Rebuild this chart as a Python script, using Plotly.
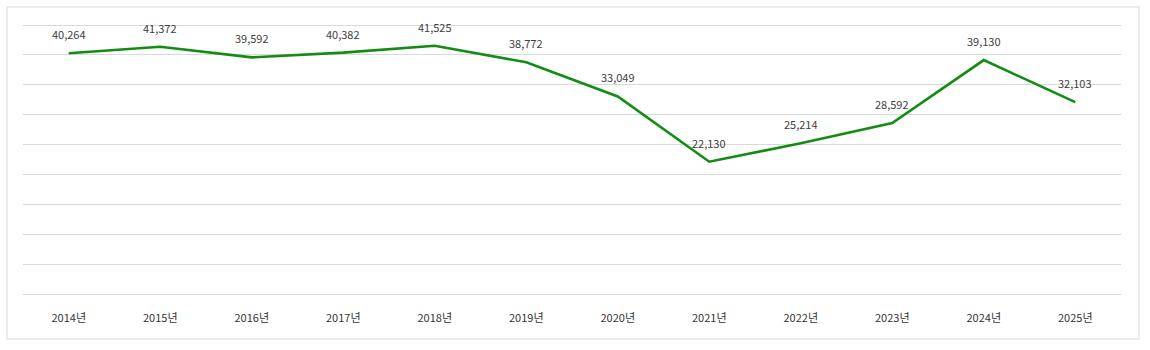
import plotly.graph_objects as go

years = ["2014년", "2015년", "2016년", "2017년", "2018년", "2019년",
         "2020년", "2021년", "2022년", "2023년", "2024년", "2025년"]
values = [40264, 41372, 39592, 40382, 41525, 38772,
          33049, 22130, 25214, 28592, 39130, 32103]
labels = [f"{v:,}" for v in values]

fig = go.Figure()
fig.add_trace(go.Scatter(
    x=years, y=values, mode="lines",
    line=dict(color="#138c13", width=2.6),
    cliponaxis=False, hoverinfo="skip", showlegend=False,
))

for yr, v, lab in zip(years, values, labels):
    fig.add_annotation(x=yr, y=v, text=lab, showarrow=False, yshift=19,
                       font=dict(family="Noto Sans CJK KR, Open Sans, sans-serif", size=11, color="#404040"))

W, H = 1150, 350
L, R, T, B = 23, 29, 20, 51
pw, ph = W - L - R, H - T - B
pad = 5 * 45000 / 269  # 5 px of padding above/below the extreme gridlines

fig.update_layout(
    width=W, height=H,
    margin=dict(l=L, r=R, t=T, b=B),
    paper_bgcolor="white", plot_bgcolor="white",
    xaxis=dict(type="category", range=[-0.5, 11.5], showgrid=False, zeroline=False,
               showline=False, ticks="", ticklen=0, ticklabelstandoff=11,
               tickfont=dict(family="Noto Sans CJK KR, sans-serif", size=11, color="#333333")),
    yaxis=dict(range=[-pad, 45000 + pad], dtick=5000, tick0=0, showgrid=True, gridcolor="#d9d9d9", gridwidth=1,
               zeroline=False, showline=False, showticklabels=False, ticks=""),
    shapes=[dict(type="rect", xref="paper", yref="paper",
                 x0=(7 - L) / pw, x1=(1139 - L) / pw,
                 y0=(H - B - 339) / ph, y1=(H - B - 7) / ph,
                 line=dict(color="#d9d9d9", width=1), fillcolor="rgba(0,0,0,0)", layer="below")],
)

fig.write_html("out.html")
